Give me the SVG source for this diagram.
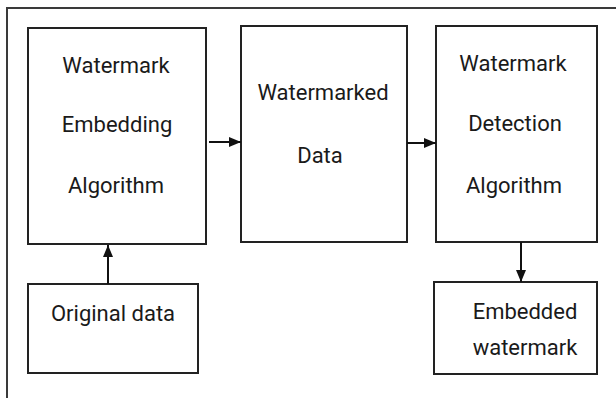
<svg xmlns="http://www.w3.org/2000/svg" width="616" height="398" viewBox="0 0 616 398">
<style>
.frame{fill:none;stroke:#3a3a3a;stroke-width:2}
.box{fill:#ffffff;stroke:#222;stroke-width:2}
.lbl{font-family:Roboto,"Open Sans",sans-serif;font-size:22px;fill:#1a1a1a;text-anchor:middle}
.conn{stroke:#111;stroke-width:2;fill:none;marker-end:url(#ah)}
</style>
<defs>
<marker id="ah" viewBox="0 0 12 10" refX="12" refY="5" markerWidth="12" markerHeight="11" markerUnits="userSpaceOnUse" orient="auto">
<path d="M0,0 L12,5 L0,10 z" fill="#111"/>
</marker>
</defs>
<rect width="616" height="398" fill="#ffffff"/>
<rect class="frame" x="7" y="8" width="630" height="410"/>
<g id="embedding">
<rect class="box" x="28" y="28" width="178" height="216"/>
<text class="lbl" x="116" y="73">Watermark</text>
<text class="lbl" x="117" y="132">Embedding</text>
<text class="lbl" x="116" y="193">Algorithm</text>
</g>
<g id="watermarked">
<rect class="box" x="241" y="26" width="166" height="216"/>
<text class="lbl" x="323" y="100">Watermarked</text>
<text class="lbl" x="320" y="163">Data</text>
</g>
<g id="detection">
<rect class="box" x="436" y="26" width="161" height="216"/>
<text class="lbl" x="513" y="71">Watermark</text>
<text class="lbl" x="515" y="131">Detection</text>
<text class="lbl" x="514" y="193">Algorithm</text>
</g>
<g id="original">
<rect class="box" x="28" y="284" width="170" height="89"/>
<text class="lbl" x="113" y="321">Original data</text>
</g>
<g id="embedded">
<rect class="box" x="434" y="282" width="163" height="92"/>
<text class="lbl" x="525" y="319">Embedded</text>
<text class="lbl" x="525" y="355">watermark</text>
</g>
<g id="connectors">
<line class="conn" x1="209" y1="142" x2="241" y2="142"/>
<line class="conn" x1="407" y1="143" x2="436" y2="143"/>
<line class="conn" x1="108" y1="284" x2="108" y2="245"/>
<line class="conn" x1="521" y1="242" x2="521" y2="282"/>
</g>
</svg>
